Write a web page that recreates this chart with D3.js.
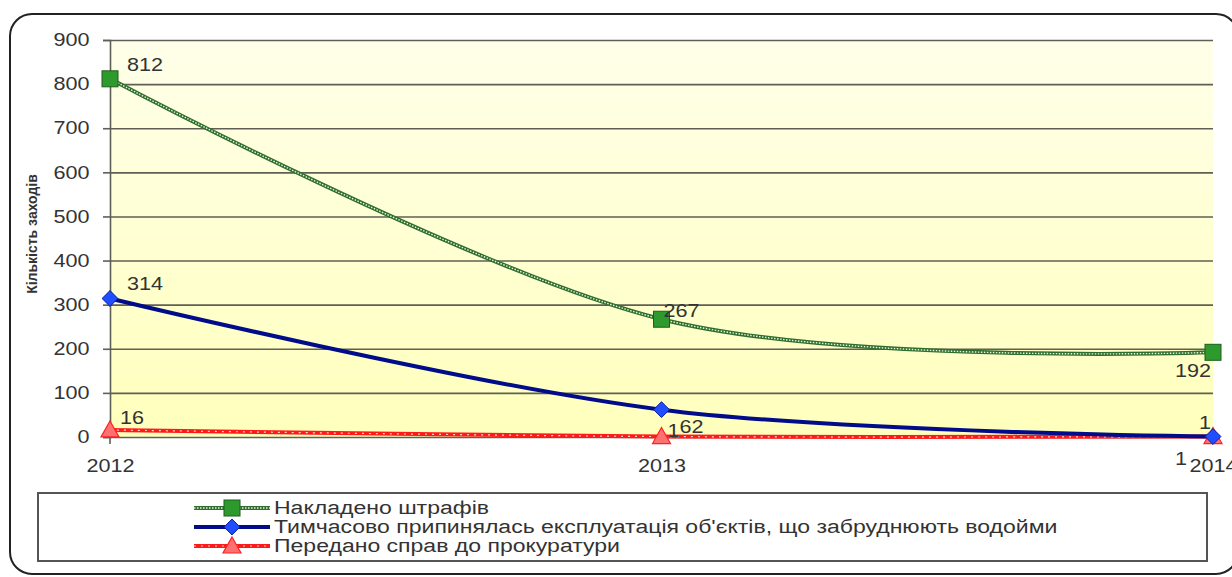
<!DOCTYPE html>
<html>
<head>
<meta charset="utf-8">
<script src="https://cdn.jsdelivr.net/npm/d3@7"></script>
<style>
  body { margin: 0; background: #fff; }
  text { font-family: "Liberation Sans", Arial, sans-serif; fill: #333; }
</style>
</head>
<body>
<div id="chart"></div>
<script>
var years = ["2012", "2013", "2014"];
var fines = [812, 267, 192];
var suspended = [314, 62, 1];
var prosecutor = [16, 1, 1];
var seriesNames = [
  "Накладено штрафів",
  "Тимчасово припинялась експлуатація об'єктів, що забруднюють водойми",
  "Передано справ до прокуратури"
];
var yTicks = [0, 100, 200, 300, 400, 500, 600, 700, 800, 900];
var yTitle = "Кількість заходів";

var width = 1232, height = 577;
var plot = {left: 110, right: 1213, top: 40, bottom: 437};
var stretch = 1.2; // the source picture is a bit wider than tall

var svg = d3.select("#chart").append("svg")
  .attr("width", width)
  .attr("height", height);

var defs = svg.append("defs");
var grad = defs.append("linearGradient")
  .attr("id", "bg").attr("x1", 0).attr("y1", 0).attr("x2", 0).attr("y2", 1);
grad.append("stop").attr("offset", "0%").attr("stop-color", "#ffffea");
grad.append("stop").attr("offset", "100%").attr("stop-color", "#ffffbc");

// outer frame
svg.append("rect")
  .attr("x", 10).attr("y", 14)
  .attr("width", 1228).attr("height", 560)
  .attr("rx", 22)
  .attr("fill", "#fff")
  .attr("stroke", "#222").attr("stroke-width", 2);

var x = d3.scalePoint().domain(years).range([plot.left, plot.right]);
var y = d3.scaleLinear().domain([0, 900]).range([plot.bottom, plot.top]);

svg.append("rect")
  .attr("x", plot.left).attr("y", plot.top)
  .attr("width", plot.right - plot.left).attr("height", plot.bottom - plot.top)
  .attr("fill", "url(#bg)");

// gridlines + ticks
var grid = svg.append("g")
  .attr("transform", "translate(" + plot.left + ",0)")
  .call(d3.axisLeft(y).tickValues(yTicks).tickSize(-(plot.right - plot.left)).tickFormat(""));
grid.select(".domain").remove();
grid.selectAll("line").attr("stroke", "#5f5f55").attr("stroke-width", 1.6);

var yAxis = svg.append("g")
  .attr("transform", "translate(" + plot.left + ",0)")
  .call(d3.axisLeft(y).tickValues(yTicks).tickSize(7).tickPadding(10));
yAxis.select(".domain").attr("stroke", "#5f5f55").attr("stroke-width", 1.6);
yAxis.selectAll("line").attr("stroke", "#5f5f55").attr("stroke-width", 1.6);
yAxis.selectAll("text")
  .style("font-family", "'Liberation Sans', Arial, sans-serif")
  .style("font-size", "18px").attr("fill", "#333")
  .attr("transform", "scale(" + stretch + ",1)");

var xAxis = svg.append("g")
  .attr("transform", "translate(0," + plot.bottom + ")")
  .call(d3.axisBottom(x).tickSize(0).tickPadding(22));
xAxis.select(".domain").remove();
xAxis.selectAll("text")
  .style("font-family", "'Liberation Sans', Arial, sans-serif")
  .style("font-size", "18px").attr("fill", "#333")
  .attr("transform", "scale(" + stretch + ",1)");
svg.append("line")
  .attr("x1", plot.left).attr("x2", plot.left)
  .attr("y1", plot.bottom).attr("y2", plot.bottom + 7)
  .attr("stroke", "#5f5f55").attr("stroke-width", 1.6);

svg.append("text")
  .attr("transform", "translate(37,234) rotate(-90)")
  .attr("text-anchor", "middle")
  .style("font-size", "14px").style("font-weight", "bold")
  .attr("fill", "#222")
  .text(yTitle);

var line = d3.line()
  .x((d, i) => x(years[i]))
  .y(d => y(d))
  .curve(d3.curveCardinal.tension(0));

// red series (drawn first, under others)
svg.append("path").datum(prosecutor)
  .attr("d", line).attr("fill", "none")
  .attr("stroke", "#ff1a1a").attr("stroke-width", 4);
svg.append("path").datum(prosecutor)
  .attr("d", line).attr("fill", "none")
  .attr("stroke", "#ffd0d0").attr("stroke-width", 1.2)
  .attr("stroke-dasharray", "2,5");

// blue series
svg.append("path").datum(suspended)
  .attr("d", line).attr("fill", "none")
  .attr("stroke", "#000c8a").attr("stroke-width", 4);

// green series
svg.append("path").datum(fines)
  .attr("d", line).attr("fill", "none")
  .attr("stroke", "#2f6e2f").attr("stroke-width", 4);
svg.append("path").datum(fines)
  .attr("d", line).attr("fill", "none")
  .attr("stroke", "#e8f5d8").attr("stroke-width", 1.4)
  .attr("stroke-dasharray", "1.5,1.5");

// markers
function square(g, cx, cy) {
  g.append("rect").attr("x", cx - 8).attr("y", cy - 8)
    .attr("width", 16).attr("height", 16)
    .attr("fill", "#2e9a2e").attr("stroke", "#1d5e1d").attr("stroke-width", 1);
}
function diamond(g, cx, cy) {
  g.append("path")
    .attr("d", d3.symbol(d3.symbolDiamond2, 160)())
    .attr("transform", "translate(" + cx + "," + cy + ")")
    .attr("fill", "#1f4dff").attr("stroke", "#0a1c9a").attr("stroke-width", 1);
}
function triangle(g, cx, cy) {
  g.append("path")
    .attr("d", "M0,-9L9,7L-9,7Z")
    .attr("transform", "translate(" + cx + "," + cy + ")")
    .attr("fill", "#ff7070").attr("stroke", "#ff2020").attr("stroke-width", 1.2);
}

var marks = svg.append("g");
prosecutor.forEach((v, i) => triangle(marks, x(years[i]), y(v)));
suspended.forEach((v, i) => diamond(marks, x(years[i]), y(v)));
fines.forEach((v, i) => square(marks, x(years[i]), y(v)));

// data labels (offsets from point)
var labelOffsets = {
  fines: [[17, -8], [2, -2], [-38, 25]],
  suspended: [[17, -8], [18, 23], [-14, -8]],
  prosecutor: [[10, -6], [6, 0], [-38, 28]]
};
var labels = svg.append("g").style("font-size", "18px");
function addLabels(values, offs) {
  values.forEach((v, i) => {
    labels.append("text")
      .attr("transform", "translate(" + (x(years[i]) + offs[i][0]) + "," + (y(v) + offs[i][1]) + ") scale(" + stretch + ",1)")
      .text(v);
  });
}
addLabels(fines, labelOffsets.fines);
addLabels(suspended, labelOffsets.suspended);
addLabels(prosecutor, labelOffsets.prosecutor);

// legend
svg.append("rect")
  .attr("x", 38).attr("y", 493)
  .attr("width", 1169).attr("height", 68)
  .attr("fill", "#fff").attr("stroke", "#555").attr("stroke-width", 2);

var legend = svg.append("g");
var rowY = [508, 527, 546];
var sx0 = 194, sx1 = 270;
// green
legend.append("line").attr("x1", sx0).attr("x2", sx1).attr("y1", rowY[0]).attr("y2", rowY[0])
  .attr("stroke", "#2f6e2f").attr("stroke-width", 4);
legend.append("line").attr("x1", sx0).attr("x2", sx1).attr("y1", rowY[0]).attr("y2", rowY[0])
  .attr("stroke", "#e8f5d8").attr("stroke-width", 1.4).attr("stroke-dasharray", "1.5,1.5");
square(legend, (sx0 + sx1) / 2, rowY[0]);
// blue
legend.append("line").attr("x1", sx0).attr("x2", sx1).attr("y1", rowY[1]).attr("y2", rowY[1])
  .attr("stroke", "#000c8a").attr("stroke-width", 4);
diamond(legend, (sx0 + sx1) / 2, rowY[1]);
// red
legend.append("line").attr("x1", sx0).attr("x2", sx1).attr("y1", rowY[2]).attr("y2", rowY[2])
  .attr("stroke", "#ff1a1a").attr("stroke-width", 4);
legend.append("line").attr("x1", sx0).attr("x2", sx1).attr("y1", rowY[2]).attr("y2", rowY[2])
  .attr("stroke", "#ffd0d0").attr("stroke-width", 1.2).attr("stroke-dasharray", "2,5");
triangle(legend, (sx0 + sx1) / 2, rowY[2]);

seriesNames.forEach((name, i) => {
  legend.append("text")
    .attr("transform", "translate(274," + (rowY[i] + 6) + ") scale(1.28,1)")
    .style("font-size", "18px")
    .text(name);
});
</script>
</body>
</html>
